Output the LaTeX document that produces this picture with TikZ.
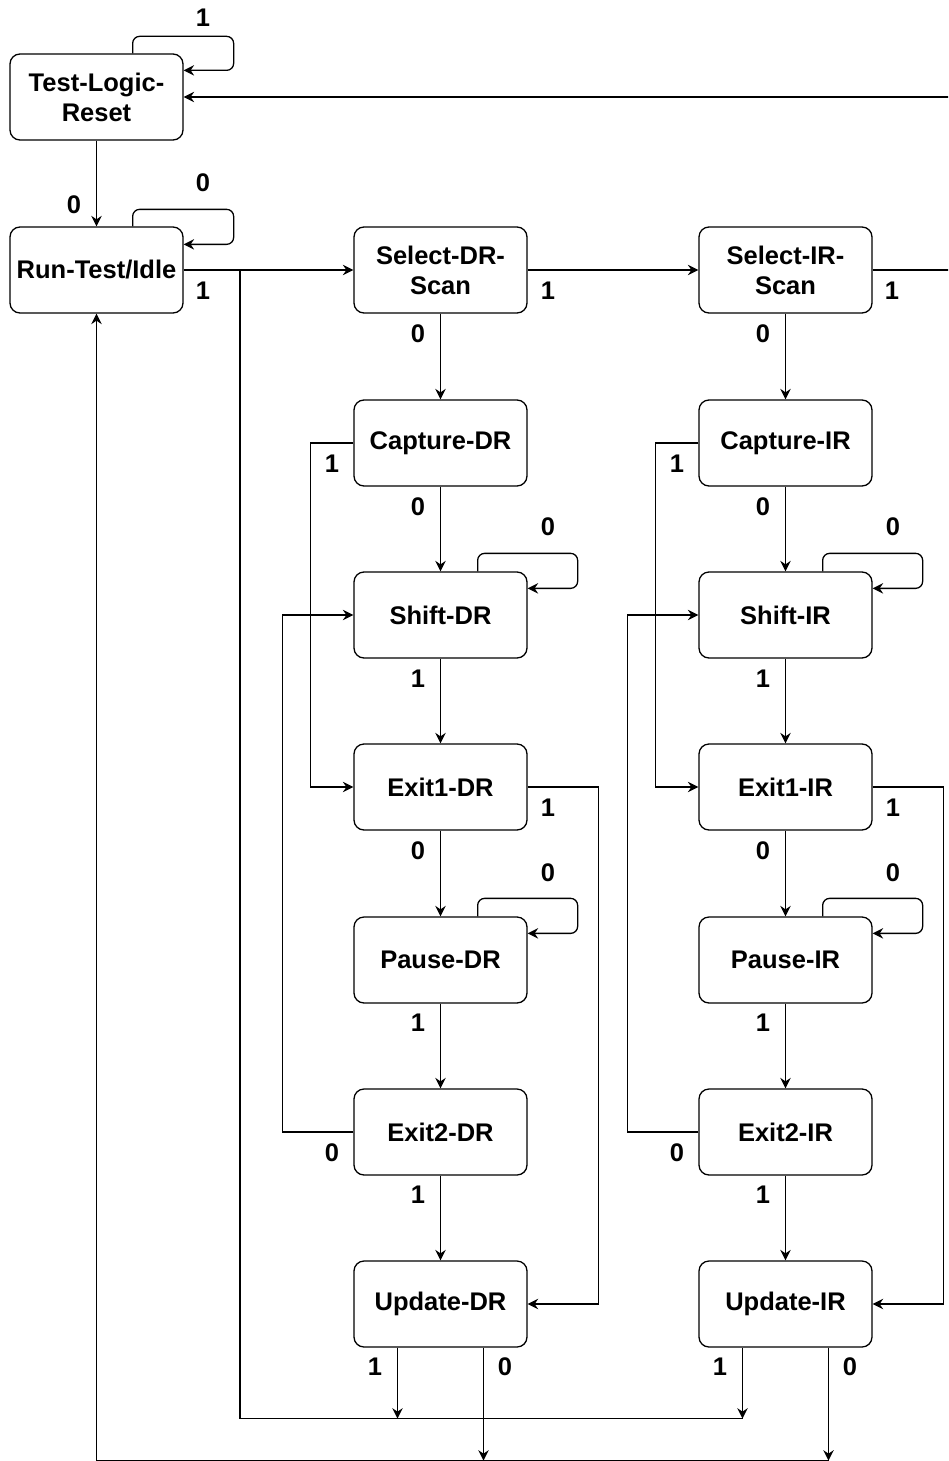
\documentclass[tikz,border=0pt]{standalone}
\usepackage{fontspec}
\setmainfont{Liberation Sans}
\usetikzlibrary{arrows.meta,calc}
\begin{document}
\begin{tikzpicture}[x=1pt,y=-1pt,
  line width=1.3pt,
  state/.style={draw, rounded corners=10pt, minimum width=173pt, minimum height=86pt,
    inner sep=0pt, align=center, font=\bfseries\fontsize{25.5}{30}\selectfont},
  lbl/.style={font=\bfseries\fontsize{25.5}{30}\selectfont, inner sep=0pt},
  arr/.style={-{Stealth[length=10.5pt,width=10.5pt,inset=3.5pt]}},
  selfloop/.style={arr, rounded corners=7pt}]
\useasboundingbox (0,0) rectangle (948,1461);
\clip (0,0) rectangle (948,1461);

% reset and idle states
\node[state] (tlr) at (96.5,97) {Test-Logic-\\Reset};
\node[state] (rti) at (96.5,270) {Run-Test/Idle};

% data-register and instruction-register columns
\foreach \c/\dx in {DR/0, IR/345} {
  \begin{scope}[xshift=\dx pt]
    \node[state] (sel\c) at (440.5,270)  {Select-\c-\\Scan};
    \node[state] (cap\c) at (440.5,443)  {Capture-\c};
    \node[state] (shf\c) at (440.5,615)  {Shift-\c};
    \node[state] (ex1\c) at (440.5,787)  {Exit1-\c};
    \node[state] (pau\c) at (440.5,960)  {Pause-\c};
    \node[state] (ex2\c) at (440.5,1132) {Exit2-\c};
    \node[state] (upd\c) at (440.5,1304) {Update-\c};

    \draw[arr] (sel\c.south) -- (cap\c.north);
    \draw[arr] (cap\c.south) -- (shf\c.north);
    \draw[arr] (shf\c.south) -- (ex1\c.north);
    \draw[arr] (ex1\c.south) -- (pau\c.north);
    \draw[arr] (pau\c.south) -- (ex2\c.north);
    \draw[arr] (ex2\c.south) -- (upd\c.north);
    \draw[arr] (cap\c.west) -- ++(-43,0) |- (ex1\c.west);
    \draw[arr] (ex2\c.west) -- ++(-71,0) |- (shf\c.west);
    \draw[arr] (ex1\c.east) -- ++(71,0) |- (upd\c.east);
    \draw[selfloop] ([xshift=-50pt]shf\c.north east) -- ++(0,-18) -- ++(100,0) -- ++(0,35)
      -- ([yshift=-17pt]shf\c.north east);
    \draw[selfloop] ([xshift=-50pt]pau\c.north east) -- ++(0,-18) -- ++(100,0) -- ++(0,35)
      -- ([yshift=-17pt]pau\c.north east);
    \draw[arr] ([xshift=-43pt]upd\c.south) -- ++(0,71);
    \draw[arr] ([xshift=43pt]upd\c.south) -- ++(0,113);

    % transition labels
    \node[lbl] at (418,334)  {0};
    \node[lbl] at (332,464)  {1};
    \node[lbl] at (418,507)  {0};
    \node[lbl] at (548,527)  {0};
    \node[lbl] at (418,679)  {1};
    \node[lbl] at (548,808)  {1};
    \node[lbl] at (418,851)  {0};
    \node[lbl] at (548,873)  {0};
    \node[lbl] at (418,1023) {1};
    \node[lbl] at (332,1153) {0};
    \node[lbl] at (418,1195) {1};
    \node[lbl] at (375,1367) {1};
    \node[lbl] at (505,1367) {0};
  \end{scope}
}

% top-level transitions
\draw[arr] (tlr.south) -- (rti.north);
\draw[arr] (rti.east) -- (selDR.west);
\draw[arr] (selDR.east) -- (selIR.west);
\draw[arr] (selIR.east) -- ++(90,0) |- (tlr.east);
\draw[selfloop] ([xshift=-51pt]tlr.north east) -- ++(0,-17) -- ++(101,0) -- ++(0,34)
  -- ([yshift=-17pt]tlr.north east);
\draw[selfloop] ([xshift=-51pt]rti.north east) -- ++(0,-17) -- ++(101,0) -- ++(0,35)
  -- ([yshift=-18pt]rti.north east);

% return buses from the update states
\coordinate (j) at (240,270);
\draw (j) |- ($(updIR.south)+(-43,71)$);
\draw[arr] ($(updIR.south)+(43,113)$) -| (rti.south);

\node[lbl] at (203,18)  {1};
\node[lbl] at (203,183) {0};
\node[lbl] at (74,205)  {0};
\node[lbl] at (203,291) {1};
\node[lbl] at (548,291) {1};
\node[lbl] at (892,291) {1};
\end{tikzpicture}
\end{document}
